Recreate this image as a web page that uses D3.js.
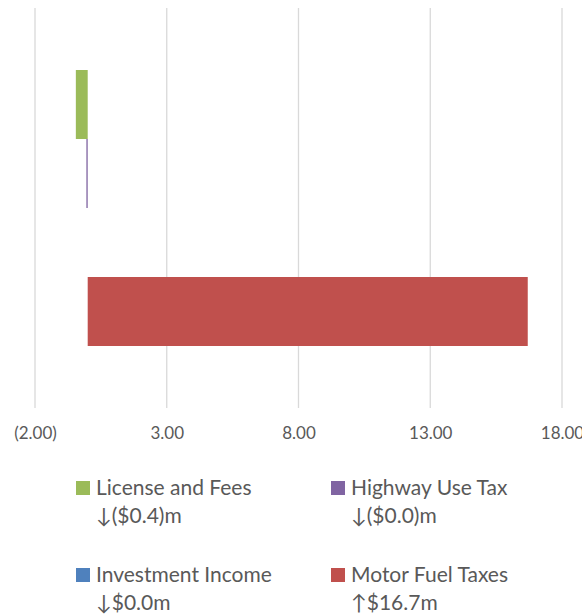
<!DOCTYPE html>
<html>
<head>
<meta charset="utf-8">
<style>
  body { margin: 0; background: #fff; }
  svg { display: block; font-family: Lato, "Open Sans", sans-serif; }
</style>
</head>
<body>
<svg width="582" height="615"></svg>
<script src="https://cdn.jsdelivr.net/npm/d3@7"></script>
<script>
// data ($ millions)
var series = ["License and Fees", "Highway Use Tax", "Investment Income", "Motor Fuel Taxes"];
var values = [-0.45, -0.05, 0.0, 16.7];
var colors = ["#9BBB59", "#8064A2", "#4F81BD", "#C0504D"];
var changeLabels = ["\u2193($0.4)m", "\u2193($0.0)m", "\u2193$0.0m", "\u2191$16.7m"];
var tickValues = [-2, 3, 8, 13, 18];

var svg = d3.select("svg");

var x = d3.scaleLinear().domain([-2, 18]).range([35, 562]);

// one category, four series stacked as a cluster
var y = d3.scaleBand()
    .domain(series)
    .range([70, 346])
    .padding(0);

var fmt = function(d) {
  var s = d3.format(".2f")(Math.abs(d));
  return d < 0 ? "(" + s + ")" : s;
};

// vertical gridlines
svg.append("g")
  .selectAll("line")
  .data(tickValues)
  .enter().append("line")
    .attr("x1", function(d) { return x(d); })
    .attr("x2", function(d) { return x(d); })
    .attr("y1", 8)
    .attr("y2", 408)
    .attr("stroke", "#D9D9D9")
    .attr("stroke-width", 1.3);

// bars
svg.append("g")
  .selectAll("rect")
  .data(values)
  .enter().append("rect")
    .attr("x", function(d) { return x(Math.min(0, d)); })
    .attr("width", function(d) { return Math.abs(x(d) - x(0)); })
    .attr("y", function(d, i) { return y(series[i]); })
    .attr("height", y.bandwidth())
    .attr("fill", function(d, i) { return colors[i]; });

// tick labels
var axis = d3.axisBottom(x)
    .tickValues(tickValues)
    .tickSize(0)
    .tickPadding(0)
    .tickFormat(fmt);

var ax = svg.append("g")
    .attr("transform", "translate(0,427)")
    .call(axis);
ax.select(".domain").remove();
ax.selectAll("text")
    .attr("fill", "#595959")
    .attr("font-size", 17)
    .attr("font-family", "Lato, sans-serif");

// legend
var legX = [76, 331];
var legY = [481, 568];
var leg = svg.append("g")
  .selectAll("g")
  .data(series)
  .enter().append("g")
    .attr("transform", function(d, i) {
      return "translate(" + legX[i % 2] + "," + legY[Math.floor(i / 2)] + ")";
    });

leg.append("rect")
    .attr("width", 14)
    .attr("height", 14)
    .attr("fill", function(d, i) { return colors[i]; });

leg.append("text")
    .attr("x", 20)
    .attr("y", 14)
    .attr("fill", "#595959")
    .attr("font-size", 21)
    .text(function(d) { return d; });

leg.append("text")
    .attr("x", 20)
    .attr("y", 42)
    .attr("fill", "#595959")
    .attr("font-size", 21)
    .text(function(d, i) { return changeLabels[i]; });
</script>
</body>
</html>
